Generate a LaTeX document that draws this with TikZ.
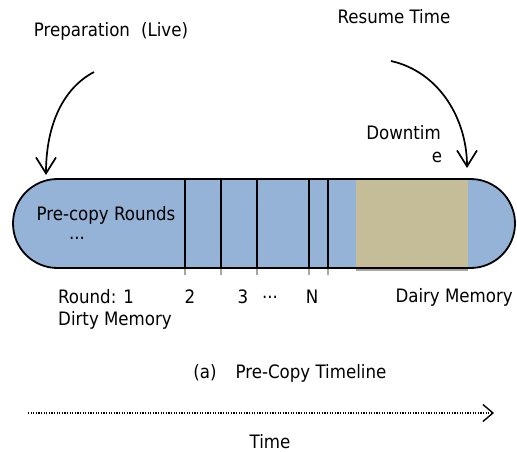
\documentclass[tikz,border=0pt]{standalone}
\usepackage{fontspec}
\setmainfont{DejaVu Sans Condensed}
\usetikzlibrary{arrows.meta}
\definecolor{roundblue}{HTML}{95B3D7}
\definecolor{downbeige}{HTML}{C4BD97}
\tikzset{
  lbl/.style={inner sep=0pt, font=\fontsize{18.5}{20}\selectfont, text=black},
  cut/.style={line width=1.5pt},
  cutshadow/.style={line width=1.5pt, gray!70},
  curvearrow/.style={line width=1.7pt, -{Straight Barb[length=16pt,width=20pt,line width=1.7pt]}},
}
\begin{document}
\begin{tikzpicture}[x=1pt,y=-1pt]
\useasboundingbox (0,0) rectangle (517,452);
% the timeline bar
\fill[roundblue, rounded corners=44.5pt] (13,179) rectangle (515,268);
\fill[downbeige] (356,179) rectangle (468,268);
\draw[cutshadow] (356,270) -- (468,270);
\foreach \x in {185,221,257,309,328} {
  \draw[cutshadow] (\x,268) -- (\x,275);
  \draw[cut] (\x,179) -- (\x,268);
}
\draw[line width=1.8pt, rounded corners=44.5pt] (13,179) rectangle (515,268);
% labels in the bar
\node[lbl] (rounds) at (106,215) {Pre-copy Rounds};
\node[lbl] (dots) at (77,238) {...};
% upper labels and bent arrows
\node[lbl] (prep) at (111,31) {Preparation\hspace{0.6em}(Live)};
\node[lbl] (resume) at (394,17) {Resume Time};
\node[lbl, anchor=east] (down1) at (441,133) {Downtim};
\node[lbl] (down2) at (437,157) {e};
\coordinate (pa) at (94,72);
\coordinate (pb) at (46,175);
\coordinate (ra) at (391,61);
\coordinate (rb) at (467,168);
\draw[curvearrow] (pa) .. controls (60,90) and (46,130) .. (pb);
\draw[curvearrow] (ra) .. controls (440,72) and (467,120) .. (rb);
% round numbers under the bar
\node[lbl, anchor=west] (r1) at (58,297) {Round: 1};
\node[lbl] (r2) at (190,297) {2};
\node[lbl] (r3) at (243,297) {3};
\node[lbl] (rdots) at (270,297) {...};
\node[lbl] (rn) at (312,297) {N};
\node[lbl, anchor=east] (dairy) at (513,297) {Dairy Memory};
\node[lbl, anchor=west] (dirty) at (58,320) {Dirty Memory};
% caption
\node[lbl] (cap) at (205,373) {(a)};
\node[lbl] (capt) at (311,373) {Pre-Copy Timeline};
% time axis
\coordinate (t0) at (28,413);
\coordinate (t1) at (494,413);
\draw[line width=1.3pt, dash pattern=on 1.2pt off 1.4pt, -{Straight Barb[length=10pt,width=17pt,line width=1.4pt]}] (t0) -- (t1);
\node[lbl] (time) at (270,442) {Time};
\end{tikzpicture}
\end{document}
